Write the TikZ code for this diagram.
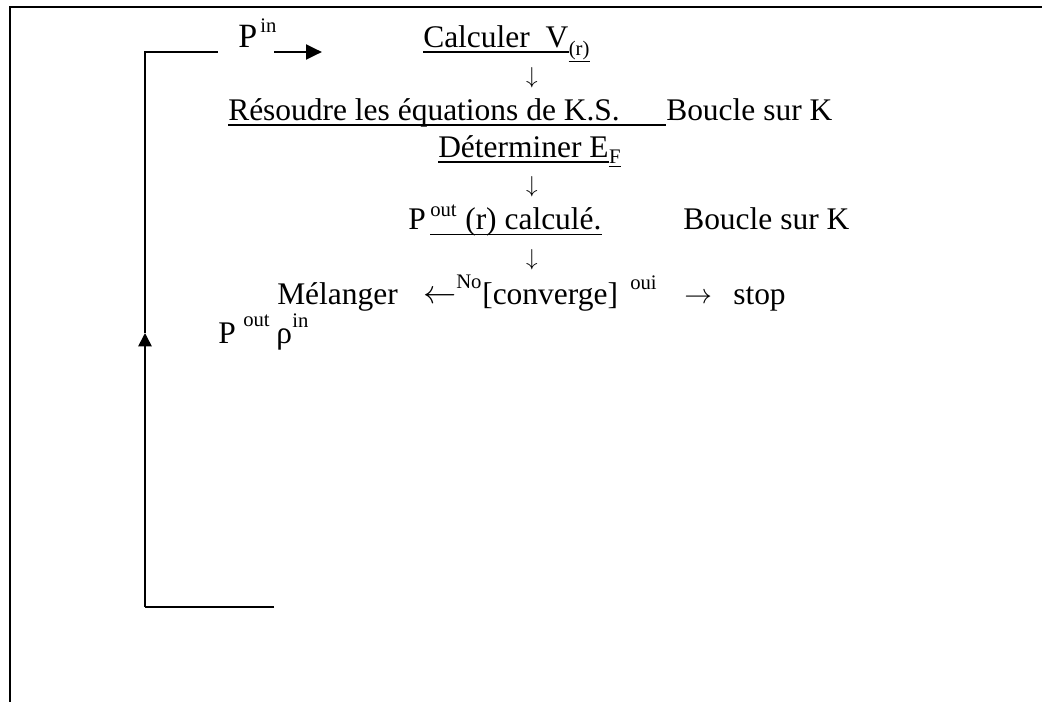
\documentclass[tikz,border=0pt]{standalone}
\usepackage{fontspec}
\setmainfont{Liberation Serif}
\usetikzlibrary{arrows.meta}
\tikzset{
  txt/.style={anchor=base west, inner sep=0pt, font=\fontsize{23.6}{28}\selectfont},
  bigtxt/.style={anchor=base west, inner sep=0pt, font=\fontsize{25.5}{30}\selectfont},
  smalltxt/.style={anchor=base west, inner sep=0pt, font=\fontsize{15.5}{18}\selectfont},
  glyph/.style={anchor=center, inner sep=0pt, font=\fontsize{17.5}{20}\selectfont},
  ul/.style={line width=1.0pt},
  fb/.style={line width=1.2pt},
  frame/.style={line width=1.7pt}
}
\begin{document}
\begin{tikzpicture}[x=0.75pt,y=-0.75pt]
\useasboundingbox (0,0) rectangle (1042,702);
% partial frame
\draw[frame] (10,702) -- (10,7) -- (1042,7);
% feedback loop
\coordinate (ftr) at (218,52);
\coordinate (ftl) at (145,52);
\coordinate (fbl) at (145,607);
\coordinate (fbr) at (274,607);
\coordinate (ftip) at (145,333);
\draw[fb] (fbr) -- (fbl);
\draw[fb,-{Triangle[length=10pt,width=10pt]}] (fbl) -- (ftip);
\draw[fb] (ftip) -- (ftl) -- (ftr);
% P^in
\node[bigtxt] (pin) at (238,48) {P};
\node[smalltxt] (pinsup) at (260,33) {in};
\coordinate (ain) at (274,52);
\coordinate (aout) at (322,52);
\draw[line width=2.2pt,-{Triangle[length=12pt,width=11pt]}] (ain) -- (aout);
% Calculer V(r)
\node[txt] (calc) at (423,48) {Calculer\ \ V};
\node[smalltxt] (calcsub) at (calc.base east) [yshift=-6pt] {(r)};
\draw[ul] ([yshift=-3pt]calc.base west) -- ([yshift=-3pt]calc.base east);
\draw[ul] ([yshift=-4pt]calcsub.base west) -- ([yshift=-4pt]calcsub.base east);
\node[glyph] (d1) at (532,78) {$\downarrow$};
% Resoudre
\node[txt] (res) at (228,121) {Résoudre les équations de K.S.};
\node[txt] (bk1) at (666,121) {Boucle sur K};
\draw[ul] ([yshift=-3pt]res.base west) -- ([yshift=-3pt]bk1.base west);
% Determiner
\node[txt] (det) at (438,158) {Déterminer E};
\node[smalltxt] (detsub) at (det.base east) [yshift=-4pt] {F};
\draw[ul] ([yshift=-3pt]det.base west) -- ([yshift=-3pt]det.base east);
\draw[ul] ([yshift=-2.5pt]detsub.base west) -- ([yshift=-2.5pt]detsub.base east);
\node[glyph] (d2) at (532,187) {$\downarrow$};
% P^out(r) calcule
\node[txt] (pout) at (408,230) {P};
\node[smalltxt] (poutsup) at (430,217) {out};
\node[txt] (calcule) at (465,230) {(r) calculé.};
\node[txt] (bk2) at (683,230) {Boucle sur K};
\draw[ul] ([yshift=-3.5pt]poutsup.base west |- calcule.base) -- ([yshift=-3.5pt]calcule.base east);
\node[glyph] (d3) at (532,260) {$\downarrow$};
% Melanger line
\node[txt] (mel) at (277,305) {Mélanger};
\node[txt] (larr) at (423,304) {$\leftarrow$};
\node[smalltxt] (no) at (456,288) {No};
\node[txt] (conv) at (482,305) {[converge]};
\node[smalltxt] (oui) at (630,290) {oui};
\node[txt,font=\fontsize{22}{26}\selectfont] (rarr) at (684,304) {$\rightarrow$};
\node[txt] (stop) at (733,305) {stop};
% P^out rho^in
\node[txt] (p2) at (218,343) {P};
\node[smalltxt] (p2sup) at (243,326) {out};
\node[txt] (rho) at (276,343) {ρ};
\node[smalltxt] (rhosup) at (292,327) {in};
\end{tikzpicture}
\end{document}
